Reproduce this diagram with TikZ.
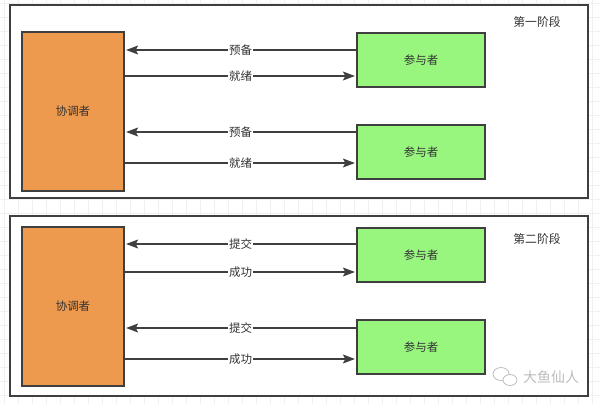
\documentclass[tikz,border=0pt]{standalone}
\usepackage{fontspec}
\setmainfont{Noto Sans CJK SC}
\usetikzlibrary{arrows.meta, positioning, calc, shapes.geometric}
\usepackage{xcolor}
\definecolor{boxline}{HTML}{3F3F3F}
\definecolor{coordfill}{HTML}{EE9A4E}
\definecolor{partfill}{HTML}{98F67F}
\definecolor{txtgray}{HTML}{333333}
\definecolor{gridgray}{HTML}{F0F0F0}
\definecolor{markgray}{HTML}{BDBDBD}

\begin{document}
\begin{tikzpicture}[
    x=1pt, y=-1pt,
    every node/.style={font=\fontsize{11.5pt}{13pt}\selectfont, text=txtgray},
    panel/.style={draw=boxline, line width=1.3pt, fill=white, inner sep=0pt, minimum width=578pt, minimum height=193pt},
    coordbox/.style={draw=boxline, line width=1.3pt, fill=coordfill, inner sep=0pt, minimum width=102pt, minimum height=159pt},
    partbox/.style={draw=boxline, line width=1.3pt, fill=partfill, inner sep=0pt, minimum width=128pt, minimum height=54pt},
    msg/.style={draw=boxline, line width=1.1pt, shorten >=1.5pt, -{Stealth[length=12pt, width=9pt, inset=2.5pt]}},
    msglabel/.style={fill=white, inner sep=1pt, pos=0.5},
    phase/.style={font=\fontsize{11.8pt}{13pt}\selectfont}
]
\useasboundingbox (0,0) rectangle (600,404);
\fill[white] (0,0) rectangle (600,404);
\foreach \gx in {4,18,...,600} \draw[gridgray, line width=0.6pt] (\gx,0) -- (\gx,404);
\foreach \gy in {3,17,...,404} \draw[gridgray, line width=0.6pt] (0,\gy) -- (600,\gy);

% first phase
\node[panel] (frameA) at (299,101.5) {};
\node[phase] (titleA) at (537,22) {第一阶段};
\node[coordbox] (coordA) at (73,111.5) {协调者};
\node[partbox] (partA1) at (421,60) {参与者};
\node[partbox] (partA2) at (421,152) {参与者};

\draw[msg] ([yshift=10pt]partA1.west) -- ([yshift=10pt]partA1.west -| coordA.east) node[msglabel] {预备};
\draw[msg] ([yshift=-16pt]partA1.west -| coordA.east) -- ([yshift=-16pt]partA1.west) node[msglabel] {就绪};
\draw[msg] ([yshift=20pt]partA2.west) -- ([yshift=20pt]partA2.west -| coordA.east) node[msglabel] {预备};
\draw[msg] ([yshift=-11pt]partA2.west -| coordA.east) -- ([yshift=-11pt]partA2.west) node[msglabel] {就绪};

% second phase
\node[panel, minimum height=180pt] (frameB) at (299,306) {};
\node[phase] (titleB) at (537,239) {第二阶段};
\node[coordbox] (coordB) at (73,306.5) {协调者};
\node[partbox] (partB1) at (421,255) {参与者};
\node[partbox] (partB2) at (421,347) {参与者};

\draw[msg] ([yshift=11pt]partB1.west) -- ([yshift=11pt]partB1.west -| coordB.east) node[msglabel] {提交};
\draw[msg] ([yshift=-17pt]partB1.west -| coordB.east) -- ([yshift=-17pt]partB1.west) node[msglabel] {成功};
\draw[msg] ([yshift=19pt]partB2.west) -- ([yshift=19pt]partB2.west -| coordB.east) node[msglabel] {提交};
\draw[msg] ([yshift=-12pt]partB2.west -| coordB.east) -- ([yshift=-12pt]partB2.west) node[msglabel] {成功};

% watermark
\draw[markgray, line width=0.8pt] (501,374) ellipse (8pt and 6.5pt);
\draw[markgray, line width=0.8pt, fill=white] (510,380) ellipse (7pt and 5.5pt);
\node[text=markgray, font=\fontsize{14pt}{16pt}\selectfont] (mark) at (551,377) {大鱼仙人};
\end{tikzpicture}
\end{document}
